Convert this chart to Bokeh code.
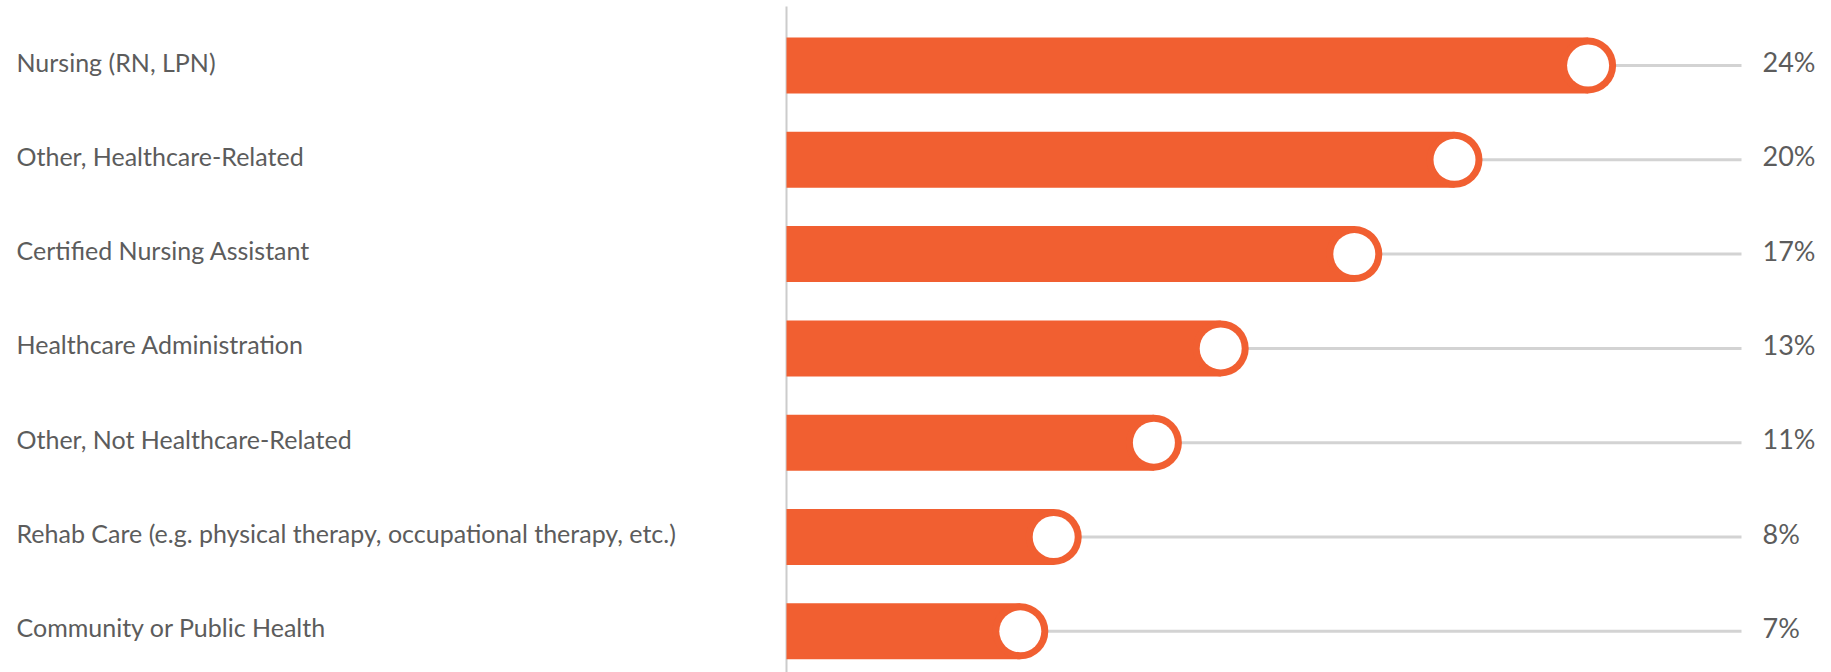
from bokeh.plotting import figure
from bokeh.models import Range1d, ColumnDataSource
from bokeh.core.properties import value
from bokeh.embed import file_html
from bokeh.resources import INLINE

categories = [
    "Nursing (RN, LPN)",
    "Other, Healthcare-Related",
    "Certified Nursing Assistant",
    "Healthcare Administration",
    "Other, Not Healthcare-Related",
    "Rehab Care (e.g. physical therapy, occupational therapy, etc.)",
    "Community or Public Health",
]
values = [24, 20, 17, 13, 11, 8, 7]
value_labels = ["24%", "20%", "17%", "13%", "11%", "8%", "7%"]

W, H = 1831, 672
PX_PER_UNIT = 33.4       # px per percentage point
AXIS_PX = 786            # x pixel of zero line
ROW0_PX = 65.0           # y pixel of first row center
ROW_STEP = 94.3          # px between rows

x_start = -AXIS_PX / PX_PER_UNIT
x_end = (W - AXIS_PX) / PX_PER_UNIT
y_top = -ROW0_PX / ROW_STEP
y_bottom = (H - ROW0_PX) / ROW_STEP

ORANGE = "#F15F31"
GREY_LINE = "#d3d3d3"
TEXT = "#5c5c5c"

rows = list(range(len(categories)))
line_end = (1741 - AXIS_PX) / PX_PER_UNIT
label_x = (1762 - AXIS_PX) / PX_PER_UNIT
cat_x = x_start + 16 / PX_PER_UNIT

src = ColumnDataSource(dict(
    y=rows, v=values, cat=categories, lab=value_labels,
    lend=[line_end] * len(rows), lx=[label_x] * len(rows), cx=[cat_x] * len(rows),
))

p = figure(width=W, height=H, output_backend="svg", toolbar_location=None,
           x_range=Range1d(x_start, x_end), y_range=Range1d(y_bottom, y_top),
           min_border=0, outline_line_color=None)
p.axis.visible = False
p.grid.visible = False
p.background_fill_color = "white"
p.border_fill_color = "white"

# grey guide lines
p.segment(x0="v", y0="y", x1="lend", y1="y", source=src,
          line_color=GREY_LINE, line_width=3)

# vertical zero line
p.segment(x0=[0], y0=[y_top + 6 / ROW_STEP], x1=[0], y1=[y_bottom],
          line_color="#cccccc", line_width=2)

# bars
bar_h = 56 / ROW_STEP
p.hbar(y="y", left=0, right="v", height=bar_h, source=src,
       fill_color=ORANGE, line_color=None)
p.scatter(x="v", y="y", size=56, source=src, fill_color=ORANGE, line_color=None)
p.scatter(x="v", y="y", size=42, source=src, fill_color="white", line_color=None)

# category labels
p.text(x="cx", y="y", text="cat", source=src, text_font=value("Lato"),
       text_font_size="25px", text_color=TEXT, text_baseline="middle",
       text_align="left", y_offset=-4)

# value labels
p.text(x="lx", y="y", text="lab", source=src, text_font=value("Lato"),
       text_font_size="27px", text_color=TEXT, text_baseline="middle",
       text_align="left", y_offset=-4)

open("out.html", "w").write(file_html(p, INLINE))
